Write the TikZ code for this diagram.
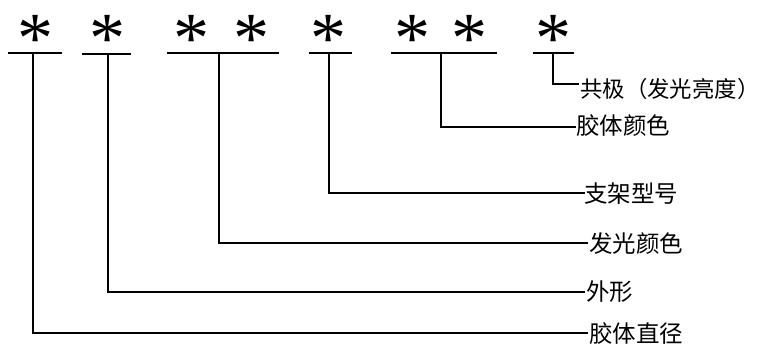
\documentclass[tikz,border=0pt]{standalone}
\usepackage{fontspec}
\newfontfamily\cjk{Noto Sans CJK SC}
\newfontfamily\starfont{Liberation Serif}
\begin{document}
\begin{tikzpicture}[x=1pt,y=-1pt,
  conn/.style={line width=1.6pt, black},
  star/.style={anchor=north, inner sep=0pt, font=\starfont\fontsize{72}{72}\selectfont},
  lab/.style={anchor=west, inner sep=0pt, font=\cjk\fontsize{23.5}{23.5}\selectfont}]
\useasboundingbox (0,0) rectangle (760,349);
% asterisks
\node[star] (s1) at (35,15) {*};
\node[star] (s2) at (107,15) {*};
\node[star] (s3) at (191,15) {*};
\node[star] (s4) at (251,15) {*};
\node[star] (s5) at (328,15) {*};
\node[star] (s6) at (412,15) {*};
\node[star] (s7) at (469,15) {*};
\node[star] (s8) at (553,15) {*};
% underline ends
\coordinate (u1a) at (8,53);   \coordinate (u1b) at (62,53);
\coordinate (u2a) at (82,54);  \coordinate (u2b) at (131,54);
\coordinate (u3a) at (167,53); \coordinate (u3b) at (279,53);
\coordinate (u4a) at (309,53); \coordinate (u4b) at (352,53);
\coordinate (u5a) at (391,53); \coordinate (u5b) at (497,53);
\coordinate (u6a) at (533,53); \coordinate (u6b) at (574,53);
\draw[conn] (u1a) -- (u1b);
\draw[conn] (u2a) -- (u2b);
\draw[conn] (u3a) -- (u3b);
\draw[conn] (u4a) -- (u4b);
\draw[conn] (u5a) -- (u5b);
\draw[conn] (u6a) -- (u6b);
% branch points
\coordinate (b1) at (33,53);
\coordinate (b2) at (108,54);
\coordinate (b3) at (219,53);
\coordinate (b4) at (329,53);
\coordinate (b5) at (441,53);
\coordinate (b6) at (553,53);
% line ends
\coordinate (e1) at (588,333);
\coordinate (e2) at (585,292);
\coordinate (e3) at (588,243);
\coordinate (e4) at (585,193);
\coordinate (e5) at (576,127);
\coordinate (e6) at (579,84);
% labels
\node[lab] (l1) at (589,334) {胶体直径};
\node[lab] (l2) at (586,292) {外形};
\node[lab] (l3) at (589,244) {发光颜色};
\node[lab] (l4) at (584,194) {支架型号};
\node[lab] (l5) at (576,126) {胶体颜色};
\node[lab, font=\cjk\fontsize{22.4}{22.4}\selectfont] (l6) at (580,89) {共极（发光亮度）};
% connectors
\draw[conn] (b1) |- (e1);
\draw[conn] (b2) |- (e2);
\draw[conn] (b3) |- (e3);
\draw[conn] (b4) |- (e4);
\draw[conn] (b5) |- (e5);
\draw[conn] (b6) |- (e6);
\end{tikzpicture}
\end{document}
